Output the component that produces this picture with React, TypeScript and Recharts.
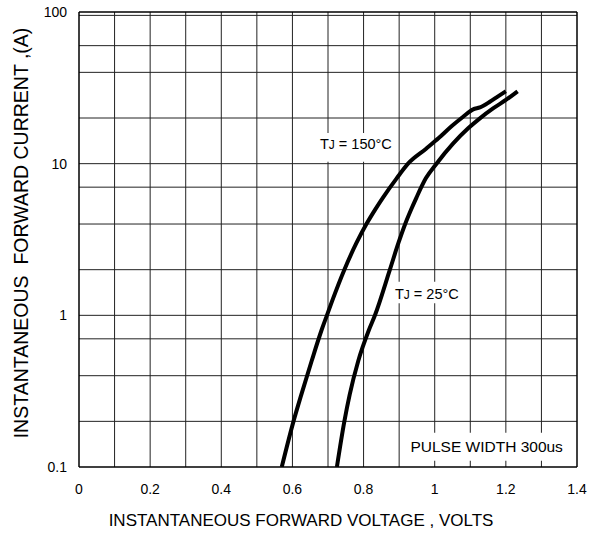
import {
  CartesianGrid,
  Line,
  LineChart,
  ReferenceArea,
  ReferenceLine,
  XAxis,
  YAxis,
} from 'recharts'

const FONT = '"Liberation Sans", Arial, sans-serif'

// Tj = 150°C curve (volts, amps)
const voltage150 = [
  0.57, 0.603, 0.625, 0.654, 0.682, 0.697, 0.712, 0.746, 0.78, 0.808, 0.833,
  0.855, 0.893, 0.925, 0.975, 1.012, 1.048, 1.08, 1.108, 1.127, 1.155, 1.179,
  1.2,
]
const current150 = [
  0.1, 0.2, 0.3, 0.5, 0.8, 1, 1.25, 2, 3, 4, 5, 6, 8, 10, 12.5, 14.8, 17.7,
  20.4, 22.8, 23.5, 25.6, 27.9, 30,
]

// Tj = 25°C curve
const voltage25 = [
  0.725, 0.746, 0.761, 0.785, 0.815, 0.832, 0.874, 0.898, 0.917, 0.934, 0.949,
  0.975, 1.005, 1.052, 1.094, 1.127, 1.165, 1.202, 1.233,
]
const current25 = [
  0.1, 0.2, 0.3, 0.5, 0.8, 1, 2, 3, 4, 5, 6, 8, 10, 13.6, 17.1, 19.9, 23.2,
  26.5, 30,
]

const voltageTicks = [0, 0.2, 0.4, 0.6, 0.8, 1, 1.2, 1.4]
const currentTicks = [0.1, 1, 10, 100]
const voltageGrid = [0.1, 0.2, 0.3, 0.4, 0.5, 0.6, 0.7, 0.8, 0.9, 1, 1.1, 1.2, 1.3]
const currentGrid = [
  0.2, 0.3, 0.4, 0.5, 0.6, 0.7, 0.8, 0.9, 1, 2, 3, 4, 5, 6, 7, 8, 9, 9.5, 10,
  20, 30, 40, 50, 60, 70, 80, 90, 95,
]

const curve150 = voltage150.map((v, k) => ({ v, i: current150[k] }))
const curve25 = voltage25.map((v, k) => ({ v, i: current25[k] }))

const tjLabel = (temp: string, baseline: number) => (props: any) => {
  const { x, y, width } = props.viewBox
  return (
    <text
      x={x + width / 2}
      y={y + baseline}
      textAnchor="middle"
      fontFamily={FONT}
      fontSize={14.5}
      fill="#000"
    >
      T<tspan fontSize={12}>J</tspan>
      {` = ${temp}`}
    </text>
  )
}

const pulseLabel = (props: any) => {
  const { x, y, width } = props.viewBox
  return (
    <text
      x={x + width / 2}
      y={y + 19}
      textAnchor="middle"
      fontFamily={FONT}
      fontSize={15.5}
      fill="#000"
    >
      PULSE WIDTH 300us
    </text>
  )
}

const xTitle = () => (
  <text x={301} y={526} textAnchor="middle" fontFamily={FONT} fontSize={17} fill="#000">
    INSTANTANEOUS FORWARD VOLTAGE , VOLTS
  </text>
)

const yTitle = () => (
  <text
    x={21}
    y={233}
    textAnchor="middle"
    dominantBaseline="central"
    transform="rotate(-90 21 233)"
    fontFamily={FONT}
    fontSize={19.5}
    fill="#000"
    style={{ whiteSpace: 'pre' }}
  >
    {'INSTANTANEOUS  FORWARD CURRENT ,(A)'}
  </text>
)

export default function App() {
  return (
    <div style={{ position: 'absolute', left: 0, top: 0, background: '#fff' }}>
      <LineChart
        width={598}
        height={537}
        margin={{ top: 12, right: 21, bottom: 0, left: 0 }}
      >
        <CartesianGrid
          stroke="#222"
          strokeWidth={1}
          horizontalValues={currentGrid}
          verticalValues={voltageGrid}
        />
        <XAxis
          type="number"
          dataKey="v"
          domain={[0, 1.4]}
          ticks={voltageTicks}
          allowDataOverflow
          axisLine={false}
          tickLine={false}
          tickMargin={11}
          height={70}
          tick={{ fontSize: 14, fill: '#000', fontFamily: FONT }}
          label={{ content: xTitle }}
        />
        <YAxis
          type="number"
          dataKey="i"
          scale="log"
          domain={[0.1, 100]}
          ticks={currentTicks}
          allowDataOverflow
          axisLine={false}
          tickLine={false}
          tickMargin={6}
          width={79}
          tickFormatter={(value) => `${value}`}
          tick={{ fontSize: 14, fill: '#000', fontFamily: FONT }}
          label={{ content: yTitle }}
        />
        <ReferenceArea
          x1={0.662}
          x2={0.895}
          y1={10.3}
          y2={15.9}
          fill="#fff"
          fillOpacity={1}
          stroke="none"
          label={{ content: tjLabel('150\u00b0C', 16.3) }}
        />
        <ReferenceArea
          x1={0.873}
          x2={1.083}
          y1={1.2}
          y2={1.666}
          fill="#fff"
          fillOpacity={1}
          stroke="none"
          label={{ content: tjLabel('25\u00b0C', 17) }}
        />
        <ReferenceArea
          x1={0.909}
          x2={1.383}
          y1={0.11}
          y2={0.168}
          fill="#fff"
          fillOpacity={1}
          stroke="none"
          label={{ content: pulseLabel }}
        />
        <ReferenceLine x={0} stroke="#000" strokeWidth={1.5} />
        <ReferenceLine x={1.4} stroke="#000" strokeWidth={1.5} />
        <ReferenceLine y={0.1} stroke="#000" strokeWidth={1.5} />
        <ReferenceLine y={100} stroke="#000" strokeWidth={1.5} />
        <Line
          data={curve150}
          dataKey="i"
          type="monotone"
          stroke="#000"
          strokeWidth={4}
          dot={false}
          isAnimationActive={false}
        />
        <Line
          data={curve25}
          dataKey="i"
          type="monotone"
          stroke="#000"
          strokeWidth={4}
          dot={false}
          isAnimationActive={false}
        />
      </LineChart>
    </div>
  )
}
